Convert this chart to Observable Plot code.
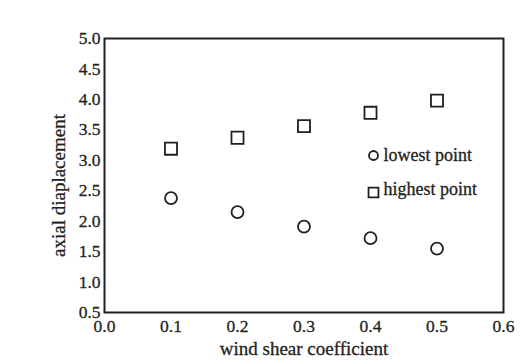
<!DOCTYPE html>
<html>
<head>
<meta charset="utf-8">
<script src="https://cdn.jsdelivr.net/npm/d3@7"></script>
<script src="https://cdn.jsdelivr.net/npm/@observablehq/plot@0.6"></script>
<style>
  html, body { margin: 0; padding: 0; background: #fff; }
  #chart svg { display: block; }
</style>
</head>
<body>
<div id="chart"></div>
<script>
const windShear = [0.1, 0.2, 0.3, 0.4, 0.5];
const lowestPoint = [2.38, 2.15, 1.91, 1.72, 1.55];
const highestPoint = [3.19, 3.37, 3.56, 3.78, 3.98];
const xTicks = [0.0, 0.1, 0.2, 0.3, 0.4, 0.5, 0.6];
const yTicks = [0.5, 1.0, 1.5, 2.0, 2.5, 3.0, 3.5, 4.0, 4.5, 5.0];
const xLabel = "wind shear coefficient";
const yLabel = "axial diaplacement";
const legendLabels = ["lowest point", "highest point"];

const low = windShear.map((x, i) => ({x, y: lowestPoint[i]}));
const high = windShear.map((x, i) => ({x, y: highestPoint[i]}));

const ink = "#231f20";
const font = "'Liberation Serif', 'Times New Roman', serif";
const fmt = d => d.toFixed(1);
const txt = {fontFamily: font, fill: ink, stroke: ink, strokeWidth: 0.3};

const chart = Plot.plot({
  width: 530,
  height: 364,
  marginLeft: 104,
  marginRight: 27,
  marginTop: 38,
  marginBottom: 52,
  style: {fontFamily: font, color: ink, background: "#fff"},
  x: {domain: [0, 0.6], axis: null},
  y: {domain: [0.5, 5.0], axis: null},
  marks: [
    // tick labels
    Plot.text(xTicks, {x: d => d, frameAnchor: "bottom", lineAnchor: "middle", dy: 14, text: fmt, fontSize: 17.5, ...txt}),
    Plot.text(yTicks, {y: d => d, frameAnchor: "left", textAnchor: "end", dx: -4, text: fmt, fontSize: 17.5, ...txt}),
    Plot.frame({stroke: ink, strokeWidth: 2}),
    Plot.dot(low, {x: "x", y: "y", symbol: "circle", r: 6, stroke: ink, strokeWidth: 1.8, fill: "none"}),
    Plot.dot(high, {x: "x", y: "y", symbol: "square", r: 6.8, stroke: ink, strokeWidth: 1.8, fill: "none"}),
    // axis titles
    Plot.text([xLabel], {frameAnchor: "bottom", lineAnchor: "middle", dy: 36, fontSize: 19, ...txt}),
    Plot.text([yLabel], {frameAnchor: "left", textAnchor: "middle", lineAnchor: "middle", rotate: -90, dx: -46, dy: 10, fontSize: 19, ...txt}),
    // legend
    Plot.dot([legendLabels[0]], {frameAnchor: "top-left", dx: 269, dy: 117, symbol: "circle", r: 4.5, stroke: ink, strokeWidth: 1.8, fill: "none"}),
    Plot.dot([legendLabels[1]], {frameAnchor: "top-left", dx: 269, dy: 154, symbol: "square", r: 5.6, stroke: ink, strokeWidth: 1.8, fill: "none"}),
    Plot.text([legendLabels[0]], {frameAnchor: "top-left", lineAnchor: "middle", dx: 279, dy: 117, text: d => d, textAnchor: "start", fontSize: 18, ...txt}),
    Plot.text([legendLabels[1]], {frameAnchor: "top-left", lineAnchor: "middle", dx: 279, dy: 151, text: d => d, textAnchor: "start", fontSize: 18, ...txt})
  ]
});
document.getElementById("chart").appendChild(chart);
</script>
</body>
</html>
